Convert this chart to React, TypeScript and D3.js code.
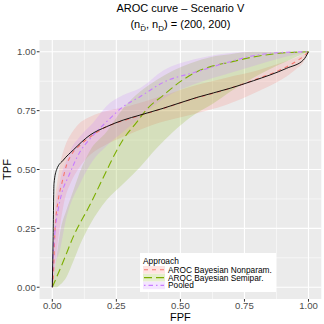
import { scaleLinear, line, area, curveMonotoneX } from 'd3';

const fpfTicks = [0, 0.25, 0.5, 0.75, 1];
const tpfTicks = [0, 0.25, 0.5, 0.75, 1];
const tickLabels = ['0.00', '0.25', '0.50', '0.75', '1.00'];

// true ROC
const trueFpf = [0, 0.003, 0.0066, 0.017, 0.043, 0.082, 0.147, 0.212, 0.277, 0.342, 0.433, 0.564, 0.694, 0.785, 0.915, 0.98, 1];
const trueTpf = [0, 0.2, 0.44, 0.5, 0.54, 0.583, 0.646, 0.682, 0.71, 0.731, 0.76, 0.806, 0.845, 0.877, 0.93, 0.965, 1];

// AROC Bayesian Nonparam.
const npFpf = [0, 0.004, 0.01, 0.023, 0.037, 0.056, 0.076, 0.108, 0.15, 0.2, 0.3, 0.42, 0.55, 0.68, 0.8, 0.9, 0.95, 0.98, 1];
const npTpf = [0, 0.045, 0.23, 0.37, 0.44, 0.52, 0.565, 0.604, 0.64, 0.675, 0.715, 0.755, 0.8, 0.84, 0.885, 0.928, 0.958, 0.98, 1];
const npBandFpf = [0, 0.005, 0.01, 0.02, 0.03, 0.05, 0.07, 0.1, 0.15, 0.2, 0.3, 0.42, 0.55, 0.68, 0.8, 0.9, 0.95, 0.98, 1];
const npLo = [0, 0.02, 0.08, 0.18, 0.26, 0.38, 0.44, 0.5, 0.565, 0.6, 0.65, 0.7, 0.735, 0.775, 0.83, 0.885, 0.925, 0.955, 1];
const npHi = [0, 0.2, 0.35, 0.45, 0.52, 0.6, 0.645, 0.69, 0.725, 0.745, 0.77, 0.81, 0.855, 0.89, 0.92, 0.955, 0.975, 0.99, 1];

// AROC Bayesian Semipar.
const spFpf = [0, 0.043, 0.082, 0.147, 0.212, 0.251, 0.277, 0.329, 0.368, 0.433, 0.498, 0.564, 0.628, 0.694, 0.785, 0.915, 1];
const spTpf = [0, 0.11, 0.215, 0.35, 0.495, 0.58, 0.628, 0.7, 0.755, 0.815, 0.872, 0.915, 0.94, 0.956, 0.978, 0.996, 1];
const spBandFpf = [0, 0.017, 0.03, 0.056, 0.082, 0.108, 0.147, 0.212, 0.277, 0.342, 0.407, 0.472, 0.537, 0.628, 0.694, 0.785, 0.915, 1];
const spLo = [0, 0, 0.01, 0.045, 0.11, 0.18, 0.265, 0.37, 0.44, 0.51, 0.59, 0.66, 0.72, 0.78, 0.83, 0.89, 0.96, 1];
const spHi = [0, 0.13, 0.23, 0.33, 0.41, 0.49, 0.58, 0.66, 0.76, 0.83, 0.88, 0.92, 0.95, 0.98, 0.99, 1, 1, 1];

// Pooled
const poFpf = [0, 0.0015, 0.01, 0.023, 0.037, 0.063, 0.108, 0.147, 0.212, 0.277, 0.342, 0.433, 0.564, 0.694, 0.785, 0.915, 1];
const poTpf = [0, 0.087, 0.23, 0.33, 0.4, 0.47, 0.575, 0.63, 0.703, 0.767, 0.809, 0.87, 0.915, 0.958, 0.983, 0.998, 1];
const poBandFpf = [0, 0.005, 0.01, 0.03, 0.056, 0.07, 0.108, 0.16, 0.212, 0.277, 0.342, 0.433, 0.564, 0.694, 0.785, 0.915, 1];
const poLo = [0, 0.03, 0.08, 0.158, 0.3, 0.35, 0.44, 0.54, 0.6, 0.66, 0.72, 0.8, 0.866, 0.91, 0.94, 0.98, 1];
const poHi = [0, 0.2, 0.3, 0.45, 0.54, 0.58, 0.64, 0.7, 0.77, 0.816, 0.845, 0.92, 0.97, 0.995, 1, 1, 1];

const approaches = ['AROC Bayesian Nonparam.', 'AROC Bayesian Semipar.', 'Pooled'];
const colors = ['#F8766D', '#7CAE00', '#C77CFF'];
const dashes = ['4 4', '8 4', '1.5 3 4.5 3'];

const W = 324;
const H = 324;
const font = '"Liberation Sans", Arial, Helvetica, sans-serif';

export default function App() {
  const x = scaleLinear().domain([-0.05, 1.05]).range([39.5, 321.3]);
  const y = scaleLinear().domain([-0.05, 1.05]).range([299, 40]);

  const mk = (xs: number[], ys: number[]) =>
    line<number>().x((_, i) => x(xs[i])).y((d) => y(d)).curve(curveMonotoneX)(ys) || '';
  const band = (xs: number[], lo: number[], hi: number[]) =>
    area<number>()
      .x((_, i) => x(xs[i]))
      .y0((_, i) => y(lo[i]))
      .y1((_, i) => y(hi[i]))
      .curve(curveMonotoneX)(xs) || '';

  const bands = [
    band(npBandFpf, npLo, npHi),
    band(spBandFpf, spLo, spHi),
    band(poBandFpf, poLo, poHi),
  ];
  const lines = [mk(npFpf, npTpf), mk(spFpf, spTpf), mk(poFpf, poTpf)];

  const minor = [0.125, 0.375, 0.625, 0.875];
  const [x0, x1] = x.range();
  const [y0, y1] = y.range();

  const lgX = 140;
  const lgY = 253;

  return (
    <svg width={W} height={H} style={{ position: 'absolute', left: 0, top: 0 }} fontFamily={font}>
      <rect width={W} height={H} fill="#fff" />
      <text x={180.4} y={12} textAnchor="middle" fontSize={11}>AROC curve – Scenario V</text>
      <text x={180.4} y={28} textAnchor="middle" fontSize={11}>
        (n<tspan fontSize={8} dy={2.5}>{'D\u0304'}</tspan>
        <tspan dy={-2.5}>, n</tspan>
        <tspan fontSize={8} dy={2.5}>D</tspan>
        <tspan dy={-2.5}>) = (200, 200)</tspan>
      </text>

      <rect x={x0} y={y1} width={x1 - x0} height={y0 - y1} fill="#EBEBEB" />
      {minor.map((v) => (
        <g key={'m' + v}>
          <line x1={x(v)} x2={x(v)} y1={y1} y2={y0} stroke="#fff" strokeWidth={0.55} />
          <line x1={x0} x2={x1} y1={y(v)} y2={y(v)} stroke="#fff" strokeWidth={0.55} />
        </g>
      ))}
      {fpfTicks.map((v) => (
        <line key={'gx' + v} x1={x(v)} x2={x(v)} y1={y1} y2={y0} stroke="#fff" strokeWidth={1.1} />
      ))}
      {tpfTicks.map((v) => (
        <line key={'gy' + v} x1={x0} x2={x1} y1={y(v)} y2={y(v)} stroke="#fff" strokeWidth={1.1} />
      ))}

      {bands.map((d, i) => (
        <path key={'b' + i} d={d} fill={colors[i]} fillOpacity={0.2} stroke="none" />
      ))}
      {lines.map((d, i) => (
        <path key={'l' + i} d={d} fill="none" stroke={colors[i]} strokeWidth={1.1} strokeDasharray={dashes[i]} />
      ))}
      <path d={mk(trueFpf, trueTpf)} fill="none" stroke="#000" strokeWidth={0.9} />

      {fpfTicks.map((v, i) => (
        <g key={'tx' + v}>
          <line x1={x(v)} x2={x(v)} y1={y0} y2={y0 + 2.7} stroke="#333" strokeWidth={1} />
          <text x={x(v)} y={309} textAnchor="middle" fontSize={9.6} fill="#4D4D4D">{tickLabels[i]}</text>
        </g>
      ))}
      {tpfTicks.map((v, i) => (
        <g key={'ty' + v}>
          <line x1={x0 - 2.7} x2={x0} y1={y(v)} y2={y(v)} stroke="#333" strokeWidth={1} />
          <text x={35.8} y={y(v) + 3.4} textAnchor="end" fontSize={9.6} fill="#4D4D4D">{tickLabels[i]}</text>
        </g>
      ))}
      <text x={180.4} y={320.5} textAnchor="middle" fontSize={11}>FPF</text>
      <text transform={`translate(10.5,${(y0 + y1) / 2}) rotate(-90)`} textAnchor="middle" fontSize={11}>TPF</text>

      <rect x={lgX} y={lgY} width={136} height={39} fill="#fff" />
      <text x={lgX + 3} y={lgY + 10.5} fontSize={8.4}>Approach</text>
      {approaches.map((a, i) => {
        const cy = lgY + 16.8 + i * 7.8;
        return (
          <g key={a}>
            <rect x={lgX + 3} y={cy - 3.8} width={22} height={7.6} fill={colors[i]} fillOpacity={0.2} />
            <line x1={lgX + 4} x2={lgX + 24} y1={cy} y2={cy} stroke={colors[i]} strokeWidth={1.1} strokeDasharray={dashes[i]} />
            <text x={lgX + 28} y={cy + 2.9} fontSize={8.3}>{a}</text>
          </g>
        );
      })}
    </svg>
  );
}
